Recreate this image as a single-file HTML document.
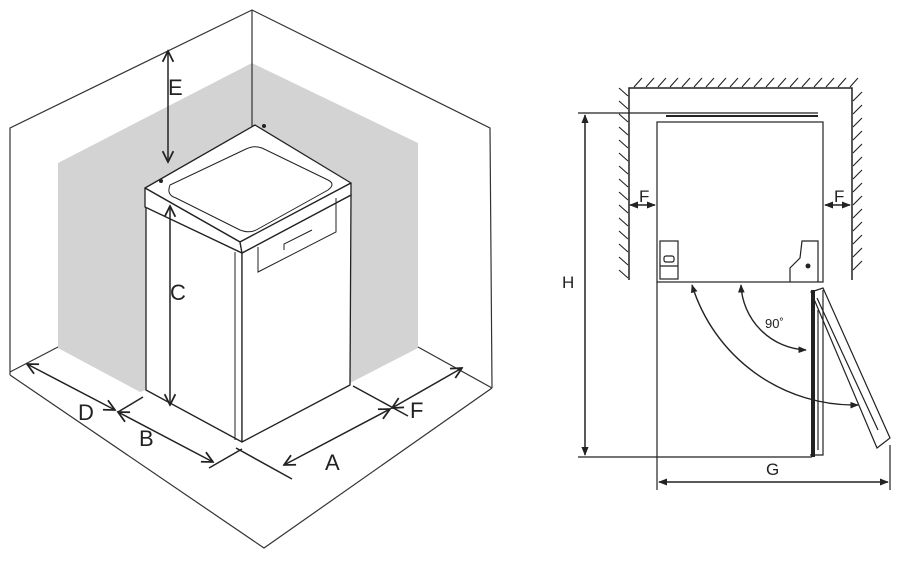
<!DOCTYPE html>
<html><head><meta charset="utf-8"><style>
html,body{margin:0;padding:0;background:#fff;}
svg{display:block;}
text{font-family:"Liberation Sans","DejaVu Sans",sans-serif;fill:#222;}
</style></head><body>
<svg width="902" height="561" viewBox="0 0 902 561" xmlns="http://www.w3.org/2000/svg">
<defs>
<marker id="ao" viewBox="0 0 10 10" refX="9" refY="5" markerWidth="9" markerHeight="9" orient="auto-start-reverse"><path d="M1,1 L9,5 L1,9" fill="none" stroke="#222" stroke-width="1.3"/></marker>
<marker id="af" viewBox="0 0 10 10" refX="9" refY="5" markerWidth="6" markerHeight="6" orient="auto-start-reverse"><path d="M0,1 L10,5 L0,9 z" fill="#222"/></marker>
</defs>
<!-- LEFT: room -->
<polygon points="58,163 252,63 418,143 418,348 350,383 146,390 140,392 58,348" fill="#d3d3d3"/>
<g fill="none" stroke="#333" stroke-width="1.2">
<polyline points="10,375 10,128 252,10 490,128 492,388"/>
<line x1="252" y1="10" x2="252" y2="130"/>
<polyline points="10,375 264,548 492,388"/>
<line x1="58" y1="347" x2="10" y2="372"/>
<line x1="418" y1="347" x2="492" y2="388"/>
</g>
<!-- fridge -->
<g stroke="#222" stroke-width="1.3" fill="#fff" stroke-linejoin="round">
<polygon points="146,207 242,253 242,442 146,390"/>
<polygon points="242,253 351,195 350,385 242,442"/>
<polygon points="145,188 255,125 351,183 240,242"/>
<polygon points="145,188 240,242 242,253 145,207"/>
<polygon points="240,242 351,183 351,195 242,253"/>
</g>
<g fill="none" stroke="#222" stroke-width="1">
<path d="M170,185 Q166,195 176,198 L240,230 Q250,234 258,229 L328,190 Q336,184 328,180 L262,148 Q254,145 246,149 Z"/>
<line x1="235" y1="252" x2="235" y2="440"/>
<polyline points="258,247 258,272 336,232 336,198"/>
<polyline points="284,250 284,244 312,230"/>
</g>
<circle cx="161" cy="181" r="2" fill="#222"/>
<circle cx="264" cy="126" r="2" fill="#222"/>
<!-- dims left -->
<g stroke="#222" stroke-width="1.5" fill="none">
<line x1="168" y1="51" x2="168" y2="162" marker-start="url(#ao)" marker-end="url(#ao)"/>
<line x1="170" y1="206" x2="170" y2="405" marker-start="url(#ao)" marker-end="url(#ao)"/>
<line x1="27" y1="364" x2="115" y2="410" marker-start="url(#ao)" marker-end="url(#ao)"/>
<line x1="118" y1="412" x2="213" y2="462" marker-start="url(#ao)" marker-end="url(#ao)"/>
<line x1="118" y1="412" x2="143" y2="397"/>
<line x1="209" y1="468" x2="242" y2="449"/>
<line x1="236" y1="448" x2="292" y2="479"/>
<line x1="284" y1="465" x2="390" y2="409" marker-start="url(#ao)" marker-end="url(#ao)"/>
<line x1="353" y1="386" x2="408" y2="416"/>
<line x1="392" y1="408" x2="462" y2="368" marker-start="url(#ao)" marker-end="url(#ao)"/>
</g>
<g font-size="22">
<text x="168" y="95">E</text>
<text x="170" y="300">C</text>
<text x="78" y="420">D</text>
<text x="139" y="446">B</text>
<text x="325" y="470">A</text>
<text x="410" y="418">F</text>
</g>
<!-- RIGHT -->
<g stroke="#222" stroke-width="1.5" fill="none">
<polyline points="629,280 629,88 852,88 852,280"/>
</g>
<g stroke="#222" stroke-width="1.1">
<path d="M634,87 l8,-9 M646,87 l8,-9 M658,87 l8,-9 M670,87 l8,-9 M682,87 l8,-9 M694,87 l8,-9 M706,87 l8,-9 M718,87 l8,-9 M730,87 l8,-9 M742,87 l8,-9 M754,87 l8,-9 M766,87 l8,-9 M778,87 l8,-9 M790,87 l8,-9 M802,87 l8,-9 M814,87 l8,-9 M826,87 l8,-9 M838,87 l8,-9 M850,87 l8,-9"/>
<path d="M628,96 l-9,-8 M628,109 l-9,-8 M628,122 l-9,-8 M628,135 l-9,-8 M628,148 l-9,-8 M628,161 l-9,-8 M628,174 l-9,-8 M628,187 l-9,-8 M628,200 l-9,-8 M628,213 l-9,-8 M628,226 l-9,-8 M628,239 l-9,-8 M628,252 l-9,-8 M628,265 l-9,-8 M628,278 l-9,-8"/>
<path d="M853,101 l9,-9 M853,114 l9,-9 M853,127 l9,-9 M853,140 l9,-9 M853,153 l9,-9 M853,166 l9,-9 M853,179 l9,-9 M853,192 l9,-9 M853,205 l9,-9 M853,218 l9,-9 M853,231 l9,-9 M853,244 l9,-9 M853,257 l9,-9 M853,270 l9,-9"/>
</g>
<g stroke="#222" stroke-width="1.2" fill="none">
<line x1="578" y1="113" x2="818" y2="113"/>
<line x1="666" y1="116" x2="818" y2="116" stroke-width="2"/>
<rect x="657" y="122" width="166" height="160"/>
<line x1="657" y1="282" x2="657" y2="490"/>
<line x1="578" y1="457" x2="812" y2="457"/>
<line x1="890" y1="445" x2="890" y2="490"/>
<line x1="585" y1="115" x2="585" y2="455" stroke-width="1.5" marker-start="url(#af)" marker-end="url(#af)"/>
<line x1="659" y1="482" x2="888" y2="482" stroke-width="1.5" marker-start="url(#af)" marker-end="url(#af)"/>
<line x1="630" y1="205" x2="655" y2="205" stroke-width="1.5" marker-start="url(#af)" marker-end="url(#af)"/>
<line x1="825" y1="205" x2="850" y2="205" stroke-width="1.5" marker-start="url(#af)" marker-end="url(#af)"/>
<rect x="660" y="241" width="18" height="38"/>
<line x1="660" y1="266" x2="678" y2="266"/>
<rect x="664" y="256" width="10" height="6" rx="2"/>
<polyline points="790,282 790,268 800,258 802,241 818,241 818,282"/>
<line x1="813" y1="290" x2="813" y2="457" stroke-width="4"/>
<line x1="818" y1="310" x2="818" y2="450"/>
<polyline points="810,455 823,455 823,290"/>
<polygon points="811,292 823,288 890,438 877,448"/>
<line x1="817" y1="298" x2="878" y2="430"/>
<path d="M741,285 A68,68 0 0 0 806,350" stroke-width="1.4" marker-start="url(#af)" marker-end="url(#af)"/>
<path d="M692,285 A170,170 0 0 0 858,405" stroke-width="1.4" marker-start="url(#af)" marker-end="url(#af)"/>
</g>
<circle cx="808" cy="266" r="2.5" fill="#222"/>
<g font-size="17">
<text x="562" y="288">H</text>
<text x="766" y="475">G</text>
<text x="639" y="202">F</text>
<text x="834" y="202">F</text>
<text x="765" y="328" font-size="13">90˚</text>
</g>
</svg>
</body></html>
